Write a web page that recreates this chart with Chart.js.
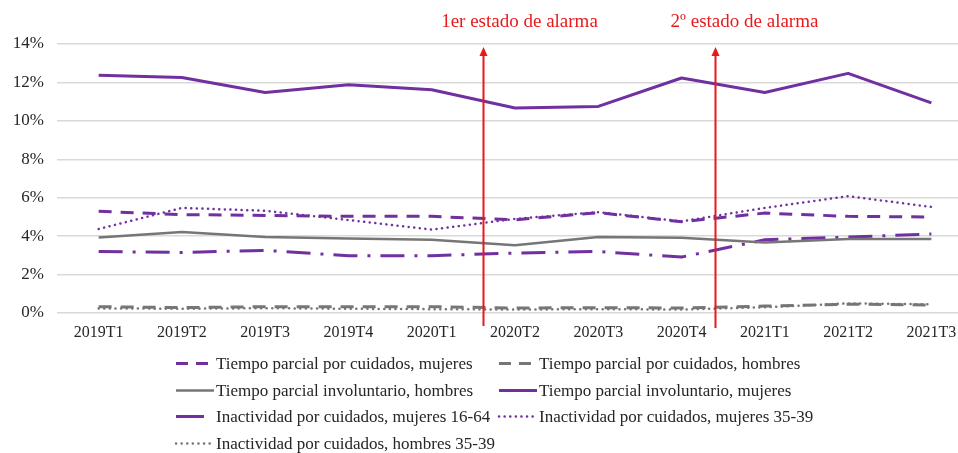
<!DOCTYPE html>
<html>
<head>
<meta charset="utf-8">
<script src="https://cdn.jsdelivr.net/npm/chart.js@4.4.1/dist/chart.umd.min.js"></script>
<style>
  html, body { margin: 0; padding: 0; background: #fff; overflow: hidden; }
  #wrap { width: 980px; height: 453px; }
</style>
</head>
<body>
<div id="wrap"><canvas id="myChart" width="980" height="453"></canvas></div>
<script>
// categories (quarters)
const quarters = ['2019T1', '2019T2', '2019T3', '2019T4', '2020T1', '2020T2', '2020T3', '2020T4', '2021T1', '2021T2', '2021T3'];

// series values (%)
const parcialCuidadosMujeres = [5.29, 5.12, 5.08, 5.03, 5.03, 4.85, 5.22, 4.75, 5.2, 5.03, 5.0];
const parcialCuidadosHombres = [0.33, 0.28, 0.33, 0.33, 0.33, 0.26, 0.28, 0.26, 0.36, 0.46, 0.42];
const involuntarioHombres = [3.93, 4.21, 3.95, 3.88, 3.81, 3.52, 3.95, 3.92, 3.67, 3.85, 3.85];
const involuntarioMujeres = [12.37, 12.26, 11.48, 11.88, 11.62, 10.67, 10.75, 12.23, 11.48, 12.47, 10.94];
const inactividadMujeres1664 = [3.2, 3.15, 3.26, 2.98, 2.98, 3.12, 3.2, 2.91, 3.81, 3.95, 4.11];
const inactividadMujeres3539 = [4.37, 5.47, 5.32, 4.84, 4.34, 4.9, 5.25, 4.77, 5.47, 6.08, 5.52];
const inactividadHombres3539 = [0.24, 0.22, 0.25, 0.22, 0.2, 0.18, 0.2, 0.18, 0.3, 0.5, 0.45];

// y ticks
const yTicks = [0, 2, 4, 6, 8, 10, 12, 14];

// alarm events, placed between quarters (category index)
const alarmPositions = [4.61, 7.4];
const alarmLabels = ['1er estado de alarma', '2º estado de alarma'];

const PURPLE = '#7030a0';
const GRAY = '#767676';
const RED = '#e8191c';
const FONT = "'Liberation Serif', 'Times New Roman', serif";

// draws the two red arrows with their labels
const alarmPlugin = {
    id: 'alarms',
    afterDatasetsDraw(chart) {
        const ctx = chart.ctx;
        const x = chart.scales.x;
        const y = chart.scales.y;
        const top = y.getPixelForValue(14) + 3;
        ctx.save();
        alarmPositions.forEach((pos, i) => {
            const px = Math.round(x.getPixelForValue(pos)) + 0.5;
            const bottom = y.bottom + 13 + i * 2;
            ctx.strokeStyle = RED;
            ctx.lineWidth = 2;
            ctx.beginPath();
            ctx.moveTo(px, bottom);
            ctx.lineTo(px, top + 8);
            ctx.stroke();
            ctx.fillStyle = RED;
            ctx.beginPath();
            ctx.moveTo(px, top);
            ctx.lineTo(px - 4, top + 9);
            ctx.lineTo(px + 4, top + 9);
            ctx.closePath();
            ctx.fill();
            ctx.font = '19px ' + FONT;
            ctx.textAlign = 'center';
            ctx.textBaseline = 'alphabetic';
            ctx.fillText(alarmLabels[i], px + 36 - i * 7, 27);
        });
        ctx.restore();
    }
};

// two-column legend under the axis
const legendPlugin = {
    id: 'gridLegend',
    afterDraw(chart) {
        const ctx = chart.ctx;
        const colX = [176, 499];
        const rowY0 = 363;
        const rowH = 26.5;
        ctx.save();
        chart.data.datasets.forEach((ds, i) => {
            const cx = colX[i % 2];
            const cy = Math.round(rowY0 + Math.floor(i / 2) * rowH) + 0.5;
            ctx.strokeStyle = ds.borderColor;
            ctx.lineWidth = ds.borderWidth;
            ctx.lineCap = ds.borderCapStyle || 'butt';
            ctx.setLineDash(ds.legendDash || ds.borderDash || []);
            ctx.beginPath();
            ctx.moveTo(cx, cy);
            ctx.lineTo(cx + 38, cy);
            ctx.stroke();
            ctx.setLineDash([]);
            ctx.fillStyle = '#262626';
            ctx.font = '17px ' + FONT;
            ctx.textAlign = 'left';
            ctx.textBaseline = 'middle';
            ctx.fillText(ds.label, cx + 40, cy + 1);
        });
        ctx.restore();
    }
};

const ctx = document.getElementById('myChart').getContext('2d');

const myChart = new Chart(ctx, {
    type: 'line',
    data: {
        labels: quarters,
        datasets: [
            {
                label: 'Tiempo parcial por cuidados, mujeres',
                data: parcialCuidadosMujeres,
                borderColor: PURPLE,
                borderWidth: 3,
                borderDash: [13, 9],
                legendDash: [12, 8]
            },
            {
                label: 'Tiempo parcial por cuidados, hombres',
                data: parcialCuidadosHombres,
                borderColor: GRAY,
                borderWidth: 3,
                borderDash: [13, 9],
                legendDash: [12, 8]
            },
            {
                label: 'Tiempo parcial involuntario, hombres',
                data: involuntarioHombres,
                borderColor: GRAY,
                borderWidth: 2.5
            },
            {
                label: 'Tiempo parcial involuntario, mujeres',
                data: involuntarioMujeres,
                borderColor: PURPLE,
                borderWidth: 3
            },
            {
                label: 'Inactividad por cuidados, mujeres 16-64',
                data: inactividadMujeres1664,
                borderColor: PURPLE,
                borderWidth: 3,
                borderDash: [24, 10, 3, 10],
                legendDash: [28, 30]
            },
            {
                label: 'Inactividad por cuidados, mujeres 35-39',
                data: inactividadMujeres3539,
                borderColor: PURPLE,
                borderWidth: 2.5,
                borderDash: [0.1, 5.5],
                borderCapStyle: 'round'
            },
            {
                label: 'Inactividad por cuidados, hombres 35-39',
                data: inactividadHombres3539,
                borderColor: GRAY,
                borderWidth: 2.5,
                borderDash: [0.1, 5.5],
                borderCapStyle: 'round'
            }
        ]
    },
    options: {
        responsive: false,
        animation: false,
        layout: { padding: { top: 44, right: 7, left: 0, bottom: 0 } },
        elements: {
            point: { radius: 0, hoverRadius: 0 },
            line: { tension: 0, fill: false, borderJoinStyle: 'round' }
        },
        plugins: {
            legend: { display: false },
            tooltip: { enabled: false }
        },
        scales: {
            x: {
                offset: true,
                grid: { display: false, drawTicks: false },
                border: { display: false },
                ticks: {
                    padding: 10,
                    maxRotation: 0,
                    autoSkip: false,
                    color: '#262626',
                    font: { family: FONT, size: 16 }
                },
                afterFit(scale) { scale.height = 140; }
            },
            y: {
                min: 0,
                max: 14,
                afterBuildTicks(scale) { scale.ticks = yTicks.map(v => ({ value: v })); },
                grid: { color: '#d9d9d9', lineWidth: 1.5, drawTicks: false },
                border: { display: false },
                ticks: {
                    padding: 13,
                    color: '#262626',
                    font: { family: FONT, size: 17 },
                    callback: v => v + '%'
                },
                afterFit(scale) { scale.width = 57; }
            }
        }
    },
    plugins: [alarmPlugin, legendPlugin]
});
</script>
</body>
</html>
